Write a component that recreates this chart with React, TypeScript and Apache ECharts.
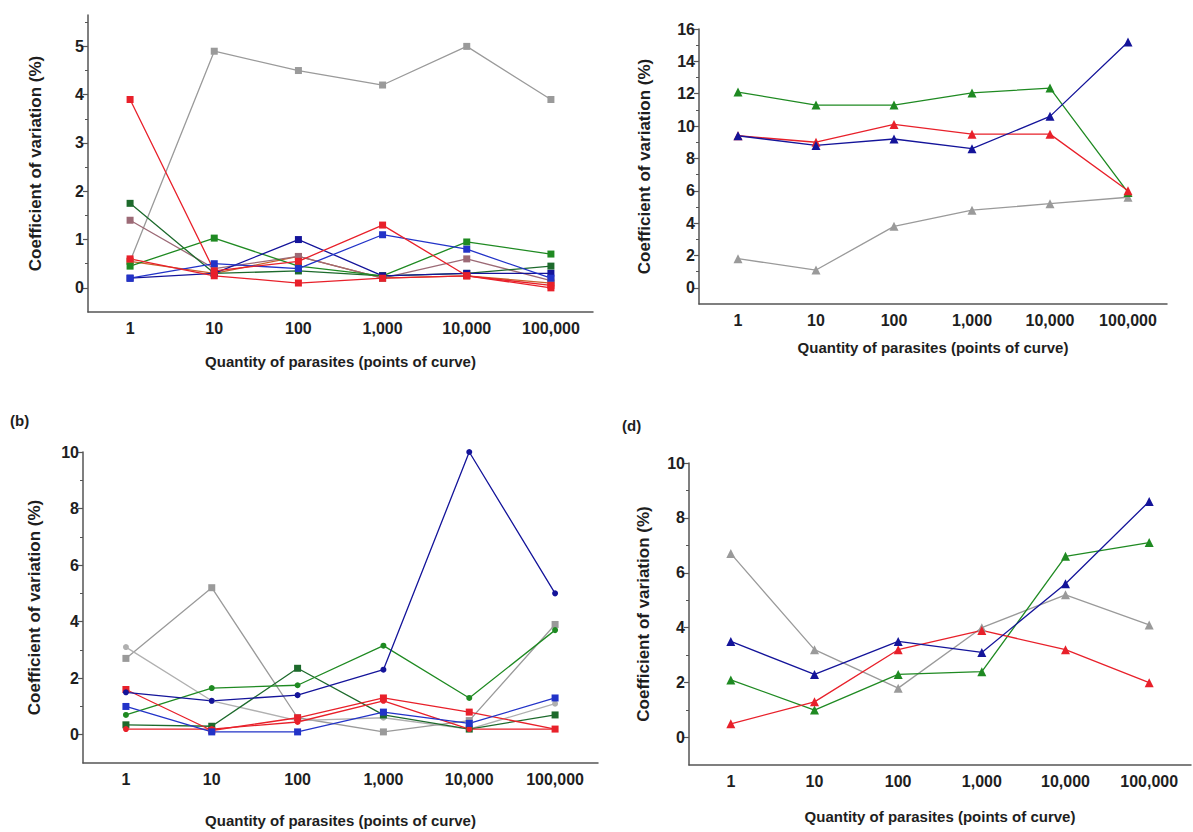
import React, { useEffect, useRef } from 'react';
import * as echarts from 'echarts';

const categories = ['1', '10', '100', '1,000', '10,000', '100,000'];

// Panel (a) – squares
const aGray = [0.55, 4.9, 4.5, 4.2, 5.0, 3.9];
const aRed1 = [3.9, 0.35, 0.55, 1.3, 0.25, 0.05];
const aMauve = [1.4, 0.4, 0.65, 0.2, 0.6, 0.15];
const aGreen1 = [1.75, 0.3, 0.35, 0.25, 0.3, 0.45];
const aGreen2 = [0.45, 1.03, 0.45, 0.25, 0.95, 0.7];
const aBlue1 = [0.2, 0.3, 1.0, 0.25, 0.3, 0.3];
const aBlue2 = [0.2, 0.5, 0.4, 1.1, 0.8, 0.2];
const aRed2 = [0.6, 0.25, 0.1, 0.2, 0.25, 0.0];
const aOrange = [0.55, 0.3, 0.65, 0.2, 0.25, 0.1];

// Panel (b) – circles and squares
const bBlueCircle = [1.5, 1.2, 1.4, 2.3, 10.0, 5.0];
const bBlueSquare = [1.0, 0.1, 0.1, 0.8, 0.4, 1.3];
const bGreenCircle = [0.7, 1.65, 1.75, 3.15, 1.3, 3.7];
const bGreenSquare = [0.35, 0.3, 2.35, 0.7, 0.2, 0.7];
const bRedSquare = [1.6, 0.15, 0.6, 1.3, 0.8, 0.2];
const bRedCircle = [0.2, 0.2, 0.45, 1.2, 0.2, 0.2];
const bGraySquare = [2.7, 5.2, 0.6, 0.1, 0.5, 3.9];
const bGrayCircle = [3.1, 1.2, 0.5, 0.6, 0.2, 1.1];

// Panel (c) – triangles
const cGreen = [12.1, 11.3, 11.3, 12.05, 12.35, 5.9];
const cRed = [9.4, 9.0, 10.1, 9.5, 9.5, 6.0];
const cBlue = [9.4, 8.8, 9.2, 8.6, 10.6, 15.2];
const cGray = [1.8, 1.1, 3.8, 4.8, 5.2, 5.6];

// Panel (d) – triangles
const dGray = [6.7, 3.2, 1.8, 4.0, 5.2, 4.1];
const dBlue = [3.5, 2.3, 3.5, 3.1, 5.6, 8.6];
const dGreen = [2.1, 1.0, 2.3, 2.4, 6.6, 7.1];
const dRed = [0.5, 1.3, 3.2, 3.9, 3.2, 2.0];

const aMajor = [0, 1, 2, 3, 4, 5];
const aMinor = [0.5, 1.5, 2.5, 3.5, 4.5, 5.5];
const bMajor = [0, 2, 4, 6, 8, 10];
const bMinor = [1, 3, 5, 7, 9];
const cMajor = [0, 2, 4, 6, 8, 10, 12, 14, 16];
const cMinor = [1, 3, 5, 7, 9, 11, 13, 15];

const yName = 'Coefficient of variation (%)';
const xName = 'Quantity of parasites (points of curve)';

const FONT = 'Liberation Sans, Arial, Helvetica, sans-serif';
const TXT = '#1e1e1e';
const AX = '#555555';

const GREEN = '#1f8a22';
const DGREEN = '#1d6a2c';
const RED = '#e8202a';
const BLUE = '#14149a';
const BLUE2 = '#2233c8';
const GRAY = '#9a9a9a';
const MAUVE = '#9c6a76';
const ORANGE = '#c8612c';

export default function App() {
  const ref = useRef<HTMLDivElement>(null);

  useEffect(() => {
    if (!ref.current) return;
    const chart = echarts.init(ref.current, undefined, { renderer: 'svg' });

    const grids = [
      { left: 88, top: 15, width: 505, height: 297 },
      { left: 83, top: 452, width: 515, height: 311 },
      { left: 699, top: 29, width: 468, height: 275 },
      { left: 689, top: 463, width: 502, height: 302 },
    ];
    const yDefs = [
      { min: -0.5, max: 5.65, major: aMajor, minor: aMinor, gap: 44 },
      { min: -1, max: 10, major: bMajor, minor: bMinor, gap: 40 },
      { min: -1, max: 16, major: cMajor, minor: cMinor, gap: 46 },
      { min: -1, max: 10, major: bMajor, minor: bMinor, gap: 37 },
    ];
    const xGaps = [42, 50, 36, 44];

    const tickStyle = { fontFamily: FONT, fontSize: 16, fontWeight: 'bold' as const, color: TXT };
    const nameStyle = { fontFamily: FONT, fontSize: 15, fontWeight: 'bold' as const, color: TXT };

    const xAxis = grids.map((_, i) => ({
      type: 'category',
      gridIndex: i,
      data: categories,
      boundaryGap: true,
      axisLine: { onZero: false, lineStyle: { color: AX, width: 1.5 } },
      axisTick: { alignWithLabel: true, length: 5, lineStyle: { color: AX, width: 1.2 } },
      axisLabel: { ...tickStyle, margin: 8 },
      splitLine: { show: false },
      name: xName,
      nameLocation: 'middle',
      nameGap: xGaps[i],
      nameTextStyle: nameStyle,
    }));

    const yAxis: any[] = [];
    yDefs.forEach((d, i) => {
      yAxis.push({
        type: 'value',
        gridIndex: i,
        position: 'left',
        min: d.min,
        max: d.max,
        axisLine: { show: true, onZero: false, lineStyle: { color: AX, width: 1.5 } },
        axisTick: { show: true, length: 5, customValues: d.major, lineStyle: { color: AX, width: 1.2 } },
        axisLabel: { ...tickStyle, margin: 4, customValues: d.major },
        splitLine: { show: false },
        name: yName,
        nameLocation: 'middle',
        nameGap: d.gap,
        nameTextStyle: { ...nameStyle, fontSize: 17 },
      });
      yAxis.push({
        type: 'value',
        gridIndex: i,
        position: 'left',
        offset: 0,
        min: d.min,
        max: d.max,
        axisLine: { show: false, onZero: false },
        axisTick: { show: true, length: 3, customValues: d.minor, lineStyle: { color: AX, width: 1 } },
        axisLabel: { show: false },
        splitLine: { show: false },
      });
    });

    const mk = (name: string, data: number[], color: string, symbol: string, grid: number, size: number) => ({
      name,
      type: 'line',
      xAxisIndex: grid,
      yAxisIndex: grid * 2,
      data,
      symbol,
      symbolSize: size,
      lineStyle: { color, width: 1.3 },
      itemStyle: { color },
      z: 3,
    });

    const SQ = 'rect';
    const CI = 'circle';
    const TR = 'triangle';

    const series = [
      mk('a-gray', aGray, GRAY, SQ, 0, 7),
      mk('a-orange', aOrange, ORANGE, SQ, 0, 7),
      mk('a-mauve', aMauve, MAUVE, SQ, 0, 7),
      mk('a-green1', aGreen1, DGREEN, SQ, 0, 7),
      mk('a-green2', aGreen2, GREEN, SQ, 0, 7),
      mk('a-blue1', aBlue1, BLUE, SQ, 0, 7),
      mk('a-blue2', aBlue2, BLUE2, SQ, 0, 7),
      mk('a-red2', aRed2, RED, SQ, 0, 7),
      mk('a-red1', aRed1, RED, SQ, 0, 7),

      mk('b-gray-sq', bGraySquare, GRAY, SQ, 1, 7),
      mk('b-gray-ci', bGrayCircle, '#b0b0b0', CI, 1, 6),
      mk('b-green-sq', bGreenSquare, DGREEN, SQ, 1, 7),
      mk('b-green-ci', bGreenCircle, GREEN, CI, 1, 6),
      mk('b-red-ci', bRedCircle, RED, CI, 1, 6),
      mk('b-red-sq', bRedSquare, RED, SQ, 1, 7),
      mk('b-blue-sq', bBlueSquare, BLUE2, SQ, 1, 7),
      mk('b-blue-ci', bBlueCircle, BLUE, CI, 1, 6),

      mk('c-gray', cGray, GRAY, TR, 2, 9),
      mk('c-green', cGreen, GREEN, TR, 2, 9),
      mk('c-red', cRed, RED, TR, 2, 9),
      mk('c-blue', cBlue, BLUE, TR, 2, 9),

      mk('d-gray', dGray, GRAY, TR, 3, 9),
      mk('d-green', dGreen, GREEN, TR, 3, 9),
      mk('d-red', dRed, RED, TR, 3, 9),
      mk('d-blue', dBlue, BLUE, TR, 3, 9),
    ];

    chart.setOption({
      animation: false,
      backgroundColor: '#ffffff',
      grid: grids.map((g) => ({ ...g, containLabel: false })),
      xAxis,
      yAxis,
      series,
      graphic: [
        { type: 'text', left: 10, top: 413, style: { text: '(b)', fontFamily: FONT, fontSize: 15, fontWeight: 'bold', fill: TXT } },
        { type: 'text', left: 622, top: 418, style: { text: '(d)', fontFamily: FONT, fontSize: 15, fontWeight: 'bold', fill: TXT } },
      ],
    });

    return () => chart.dispose();
  }, []);

  return (
    <div
      ref={ref}
      style={{ position: 'fixed', left: 0, top: 0, width: 1193, height: 832, background: '#fff' }}
    />
  );
}
